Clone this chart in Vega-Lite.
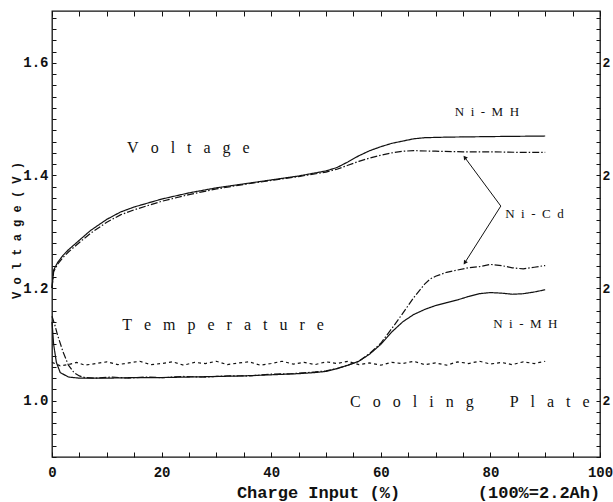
{
  "$schema": "https://vega.github.io/schema/vega-lite/v6.json",
  "width": 548,
  "height": 446,
  "autosize": {"type": "none"},
  "padding": {"left": 52, "top": 11, "right": 13, "bottom": 45},
  "background": "white",
  "config": {
    "view": {"stroke": "#111", "strokeWidth": 1.3},
    "axis": {"domain": false, "grid": false, "ticks": true, "tickColor": "#111", "tickWidth": 1, "labelColor": "#111", "titleColor": "#111"}
  },
  "datasets": {
    "series": [
      {"curve": "Ni-MH voltage", "x": 0, "v": 1.2},
      {"curve": "Ni-MH voltage", "x": 0.3, "v": 1.232},
      {"curve": "Ni-MH voltage", "x": 1, "v": 1.245},
      {"curve": "Ni-MH voltage", "x": 2, "v": 1.258},
      {"curve": "Ni-MH voltage", "x": 3, "v": 1.268},
      {"curve": "Ni-MH voltage", "x": 5, "v": 1.285},
      {"curve": "Ni-MH voltage", "x": 7, "v": 1.302},
      {"curve": "Ni-MH voltage", "x": 10, "v": 1.322},
      {"curve": "Ni-MH voltage", "x": 12.5, "v": 1.335},
      {"curve": "Ni-MH voltage", "x": 15, "v": 1.344},
      {"curve": "Ni-MH voltage", "x": 20, "v": 1.358},
      {"curve": "Ni-MH voltage", "x": 25, "v": 1.369},
      {"curve": "Ni-MH voltage", "x": 30, "v": 1.378},
      {"curve": "Ni-MH voltage", "x": 35, "v": 1.385},
      {"curve": "Ni-MH voltage", "x": 40, "v": 1.392},
      {"curve": "Ni-MH voltage", "x": 45, "v": 1.399},
      {"curve": "Ni-MH voltage", "x": 50, "v": 1.408},
      {"curve": "Ni-MH voltage", "x": 52, "v": 1.414},
      {"curve": "Ni-MH voltage", "x": 54, "v": 1.424},
      {"curve": "Ni-MH voltage", "x": 56, "v": 1.435},
      {"curve": "Ni-MH voltage", "x": 58, "v": 1.444},
      {"curve": "Ni-MH voltage", "x": 60, "v": 1.451},
      {"curve": "Ni-MH voltage", "x": 62, "v": 1.457},
      {"curve": "Ni-MH voltage", "x": 64, "v": 1.461},
      {"curve": "Ni-MH voltage", "x": 66, "v": 1.465},
      {"curve": "Ni-MH voltage", "x": 68, "v": 1.467},
      {"curve": "Ni-MH voltage", "x": 72, "v": 1.468},
      {"curve": "Ni-MH voltage", "x": 80, "v": 1.469},
      {"curve": "Ni-MH voltage", "x": 90, "v": 1.47},

      {"curve": "Ni-Cd voltage", "x": 0, "v": 1.2},
      {"curve": "Ni-Cd voltage", "x": 0.3, "v": 1.229},
      {"curve": "Ni-Cd voltage", "x": 1, "v": 1.242},
      {"curve": "Ni-Cd voltage", "x": 2, "v": 1.254},
      {"curve": "Ni-Cd voltage", "x": 3, "v": 1.264},
      {"curve": "Ni-Cd voltage", "x": 5, "v": 1.281},
      {"curve": "Ni-Cd voltage", "x": 7, "v": 1.297},
      {"curve": "Ni-Cd voltage", "x": 10, "v": 1.317},
      {"curve": "Ni-Cd voltage", "x": 12.5, "v": 1.33},
      {"curve": "Ni-Cd voltage", "x": 15, "v": 1.339},
      {"curve": "Ni-Cd voltage", "x": 20, "v": 1.354},
      {"curve": "Ni-Cd voltage", "x": 25, "v": 1.366},
      {"curve": "Ni-Cd voltage", "x": 30, "v": 1.376},
      {"curve": "Ni-Cd voltage", "x": 35, "v": 1.384},
      {"curve": "Ni-Cd voltage", "x": 40, "v": 1.391},
      {"curve": "Ni-Cd voltage", "x": 45, "v": 1.398},
      {"curve": "Ni-Cd voltage", "x": 50, "v": 1.406},
      {"curve": "Ni-Cd voltage", "x": 52, "v": 1.411},
      {"curve": "Ni-Cd voltage", "x": 54, "v": 1.418},
      {"curve": "Ni-Cd voltage", "x": 56, "v": 1.425},
      {"curve": "Ni-Cd voltage", "x": 58, "v": 1.431},
      {"curve": "Ni-Cd voltage", "x": 60, "v": 1.436},
      {"curve": "Ni-Cd voltage", "x": 62, "v": 1.44},
      {"curve": "Ni-Cd voltage", "x": 64, "v": 1.443},
      {"curve": "Ni-Cd voltage", "x": 66, "v": 1.444},
      {"curve": "Ni-Cd voltage", "x": 70, "v": 1.443},
      {"curve": "Ni-Cd voltage", "x": 75, "v": 1.442},
      {"curve": "Ni-Cd voltage", "x": 80, "v": 1.442},
      {"curve": "Ni-Cd voltage", "x": 85, "v": 1.441},
      {"curve": "Ni-Cd voltage", "x": 90, "v": 1.441},

      {"curve": "Ni-MH temperature", "x": 0, "v": 1.14},
      {"curve": "Ni-MH temperature", "x": 0.3, "v": 1.1},
      {"curve": "Ni-MH temperature", "x": 0.8, "v": 1.068},
      {"curve": "Ni-MH temperature", "x": 1.5, "v": 1.05},
      {"curve": "Ni-MH temperature", "x": 3, "v": 1.042},
      {"curve": "Ni-MH temperature", "x": 5, "v": 1.04},
      {"curve": "Ni-MH temperature", "x": 10, "v": 1.04},
      {"curve": "Ni-MH temperature", "x": 15, "v": 1.041},
      {"curve": "Ni-MH temperature", "x": 20, "v": 1.041},
      {"curve": "Ni-MH temperature", "x": 25, "v": 1.042},
      {"curve": "Ni-MH temperature", "x": 30, "v": 1.043},
      {"curve": "Ni-MH temperature", "x": 35, "v": 1.044},
      {"curve": "Ni-MH temperature", "x": 40, "v": 1.046},
      {"curve": "Ni-MH temperature", "x": 45, "v": 1.048},
      {"curve": "Ni-MH temperature", "x": 48, "v": 1.05},
      {"curve": "Ni-MH temperature", "x": 50, "v": 1.052},
      {"curve": "Ni-MH temperature", "x": 52, "v": 1.057},
      {"curve": "Ni-MH temperature", "x": 54, "v": 1.063},
      {"curve": "Ni-MH temperature", "x": 56, "v": 1.07},
      {"curve": "Ni-MH temperature", "x": 58, "v": 1.083},
      {"curve": "Ni-MH temperature", "x": 60, "v": 1.1},
      {"curve": "Ni-MH temperature", "x": 62, "v": 1.122},
      {"curve": "Ni-MH temperature", "x": 64, "v": 1.14},
      {"curve": "Ni-MH temperature", "x": 66, "v": 1.153},
      {"curve": "Ni-MH temperature", "x": 68, "v": 1.162},
      {"curve": "Ni-MH temperature", "x": 70, "v": 1.169},
      {"curve": "Ni-MH temperature", "x": 72, "v": 1.174},
      {"curve": "Ni-MH temperature", "x": 74, "v": 1.179},
      {"curve": "Ni-MH temperature", "x": 76, "v": 1.185},
      {"curve": "Ni-MH temperature", "x": 78, "v": 1.19},
      {"curve": "Ni-MH temperature", "x": 80, "v": 1.192},
      {"curve": "Ni-MH temperature", "x": 82, "v": 1.191},
      {"curve": "Ni-MH temperature", "x": 84, "v": 1.189},
      {"curve": "Ni-MH temperature", "x": 86, "v": 1.19},
      {"curve": "Ni-MH temperature", "x": 88, "v": 1.193},
      {"curve": "Ni-MH temperature", "x": 90, "v": 1.197},

      {"curve": "Ni-Cd temperature", "x": 0, "v": 1.15},
      {"curve": "Ni-Cd temperature", "x": 0.5, "v": 1.135},
      {"curve": "Ni-Cd temperature", "x": 1, "v": 1.117},
      {"curve": "Ni-Cd temperature", "x": 2, "v": 1.087},
      {"curve": "Ni-Cd temperature", "x": 3, "v": 1.063},
      {"curve": "Ni-Cd temperature", "x": 4, "v": 1.05},
      {"curve": "Ni-Cd temperature", "x": 5, "v": 1.044},
      {"curve": "Ni-Cd temperature", "x": 6, "v": 1.041},
      {"curve": "Ni-Cd temperature", "x": 8, "v": 1.04},
      {"curve": "Ni-Cd temperature", "x": 11, "v": 1.042},
      {"curve": "Ni-Cd temperature", "x": 14, "v": 1.04},
      {"curve": "Ni-Cd temperature", "x": 17, "v": 1.042},
      {"curve": "Ni-Cd temperature", "x": 20, "v": 1.041},
      {"curve": "Ni-Cd temperature", "x": 24, "v": 1.043},
      {"curve": "Ni-Cd temperature", "x": 28, "v": 1.042},
      {"curve": "Ni-Cd temperature", "x": 32, "v": 1.044},
      {"curve": "Ni-Cd temperature", "x": 36, "v": 1.044},
      {"curve": "Ni-Cd temperature", "x": 40, "v": 1.047},
      {"curve": "Ni-Cd temperature", "x": 44, "v": 1.048},
      {"curve": "Ni-Cd temperature", "x": 48, "v": 1.051},
      {"curve": "Ni-Cd temperature", "x": 50, "v": 1.053},
      {"curve": "Ni-Cd temperature", "x": 52, "v": 1.057},
      {"curve": "Ni-Cd temperature", "x": 54, "v": 1.063},
      {"curve": "Ni-Cd temperature", "x": 56, "v": 1.07},
      {"curve": "Ni-Cd temperature", "x": 58, "v": 1.084},
      {"curve": "Ni-Cd temperature", "x": 60, "v": 1.102},
      {"curve": "Ni-Cd temperature", "x": 62, "v": 1.128},
      {"curve": "Ni-Cd temperature", "x": 64, "v": 1.155},
      {"curve": "Ni-Cd temperature", "x": 66, "v": 1.183},
      {"curve": "Ni-Cd temperature", "x": 68, "v": 1.207},
      {"curve": "Ni-Cd temperature", "x": 69, "v": 1.216},
      {"curve": "Ni-Cd temperature", "x": 70, "v": 1.221},
      {"curve": "Ni-Cd temperature", "x": 72, "v": 1.228},
      {"curve": "Ni-Cd temperature", "x": 74, "v": 1.232},
      {"curve": "Ni-Cd temperature", "x": 76, "v": 1.236},
      {"curve": "Ni-Cd temperature", "x": 78, "v": 1.238},
      {"curve": "Ni-Cd temperature", "x": 80, "v": 1.242},
      {"curve": "Ni-Cd temperature", "x": 82, "v": 1.24},
      {"curve": "Ni-Cd temperature", "x": 84, "v": 1.236},
      {"curve": "Ni-Cd temperature", "x": 86, "v": 1.234},
      {"curve": "Ni-Cd temperature", "x": 88, "v": 1.237},
      {"curve": "Ni-Cd temperature", "x": 90, "v": 1.24},

      {"curve": "Cooling plate", "x": 0, "v": 1.068},
      {"curve": "Cooling plate", "x": 1.5, "v": 1.062},
      {"curve": "Cooling plate", "x": 3, "v": 1.064},
      {"curve": "Cooling plate", "x": 4.5, "v": 1.068},
      {"curve": "Cooling plate", "x": 6, "v": 1.063},
      {"curve": "Cooling plate", "x": 8, "v": 1.066},
      {"curve": "Cooling plate", "x": 10, "v": 1.069},
      {"curve": "Cooling plate", "x": 12, "v": 1.064},
      {"curve": "Cooling plate", "x": 14, "v": 1.067},
      {"curve": "Cooling plate", "x": 16, "v": 1.07},
      {"curve": "Cooling plate", "x": 18, "v": 1.064},
      {"curve": "Cooling plate", "x": 20, "v": 1.066},
      {"curve": "Cooling plate", "x": 22, "v": 1.069},
      {"curve": "Cooling plate", "x": 24, "v": 1.063},
      {"curve": "Cooling plate", "x": 26, "v": 1.068},
      {"curve": "Cooling plate", "x": 28, "v": 1.066},
      {"curve": "Cooling plate", "x": 30, "v": 1.07},
      {"curve": "Cooling plate", "x": 32, "v": 1.064},
      {"curve": "Cooling plate", "x": 34, "v": 1.067},
      {"curve": "Cooling plate", "x": 36, "v": 1.069},
      {"curve": "Cooling plate", "x": 38, "v": 1.063},
      {"curve": "Cooling plate", "x": 40, "v": 1.066},
      {"curve": "Cooling plate", "x": 42, "v": 1.07},
      {"curve": "Cooling plate", "x": 44, "v": 1.065},
      {"curve": "Cooling plate", "x": 46, "v": 1.068},
      {"curve": "Cooling plate", "x": 48, "v": 1.064},
      {"curve": "Cooling plate", "x": 50, "v": 1.069},
      {"curve": "Cooling plate", "x": 52, "v": 1.066},
      {"curve": "Cooling plate", "x": 54, "v": 1.07},
      {"curve": "Cooling plate", "x": 56, "v": 1.064},
      {"curve": "Cooling plate", "x": 58, "v": 1.067},
      {"curve": "Cooling plate", "x": 60, "v": 1.063},
      {"curve": "Cooling plate", "x": 62, "v": 1.068},
      {"curve": "Cooling plate", "x": 64, "v": 1.066},
      {"curve": "Cooling plate", "x": 66, "v": 1.07},
      {"curve": "Cooling plate", "x": 68, "v": 1.064},
      {"curve": "Cooling plate", "x": 70, "v": 1.067},
      {"curve": "Cooling plate", "x": 72, "v": 1.063},
      {"curve": "Cooling plate", "x": 74, "v": 1.069},
      {"curve": "Cooling plate", "x": 76, "v": 1.066},
      {"curve": "Cooling plate", "x": 78, "v": 1.07},
      {"curve": "Cooling plate", "x": 80, "v": 1.065},
      {"curve": "Cooling plate", "x": 82, "v": 1.068},
      {"curve": "Cooling plate", "x": 84, "v": 1.064},
      {"curve": "Cooling plate", "x": 86, "v": 1.069},
      {"curve": "Cooling plate", "x": 88, "v": 1.066},
      {"curve": "Cooling plate", "x": 90, "v": 1.07}
    ],
    "bigLabels": [
      {"label": "V\u00a0\u00a0\u00a0o\u00a0\u00a0\u00a0l\u00a0\u00a0\u00a0t\u00a0\u00a0\u00a0a\u00a0\u00a0\u00a0g\u00a0\u00a0\u00a0e", "x": 13.7, "v": 1.449},
      {"label": "T\u00a0\u00a0\u00a0e\u00a0\u00a0\u00a0m\u00a0\u00a0\u00a0p\u00a0\u00a0\u00a0e\u00a0\u00a0\u00a0r\u00a0\u00a0\u00a0a\u00a0\u00a0\u00a0t\u00a0\u00a0\u00a0u\u00a0\u00a0\u00a0r\u00a0\u00a0\u00a0e", "x": 12.8, "v": 1.134},
      {"label": "C\u00a0\u00a0\u00a0o\u00a0\u00a0\u00a0o\u00a0\u00a0\u00a0l\u00a0\u00a0\u00a0i\u00a0\u00a0\u00a0n\u00a0\u00a0\u00a0g\u00a0\u00a0\u00a0\u00a0\u00a0\u00a0\u00a0\u00a0\u00a0P\u00a0\u00a0\u00a0l\u00a0\u00a0\u00a0a\u00a0\u00a0\u00a0t\u00a0\u00a0\u00a0e", "x": 54.4, "v": 0.998}
    ],
    "smallLabels": [
      {"label": "N\u00a0\u00a0i\u00a0\u00a0-\u00a0\u00a0M\u00a0\u00a0H", "x": 73.5, "v": 1.5125},
      {"label": "N\u00a0\u00a0i\u00a0\u00a0-\u00a0\u00a0C\u00a0\u00a0d", "x": 82.7, "v": 1.331},
      {"label": "N\u00a0\u00a0i\u00a0\u00a0-\u00a0\u00a0M\u00a0\u00a0H", "x": 80.5, "v": 1.137}
    ],
    "arrows": [
      {"x": 81.9, "v": 1.3456, "x2": 75.4, "v2": 1.431},
      {"x": 81.9, "v": 1.3456, "x2": 75.4, "v2": 1.246}
    ],
    "headUp": [{"x": 75.4, "v": 1.431}],
    "headDown": [{"x": 75.4, "v": 1.246}],
    "note": [{"label": "(100%=2.2Ah)", "x": 77.7, "v": 0.836}]
  },
  "layer": [
    {
      "data": {"name": "series"},
      "mark": {"type": "line", "strokeWidth": 1.2, "color": "#111"},
      "encoding": {
        "x": {
          "field": "x", "type": "quantitative",
          "scale": {"domain": [0, 100], "nice": false, "zero": false},
          "axis": {
            "orient": "bottom",
            "values": [0, 5, 10, 15, 20, 25, 30, 35, 40, 45, 50, 55, 60, 65, 70, 75, 80, 85, 90, 95, 100],
            "labelExpr": "datum.value % 20 === 0 ? datum.label : ''",
            "tickSize": -5,
            "labelFont": "Liberation Mono", "labelFontWeight": "bold", "labelFontSize": 14,
            "labelPadding": 13, "labelFlush": false, "labelOverlap": false,
            "title": "Charge Input (%)",
            "titleFont": "Liberation Mono", "titleFontWeight": "bold", "titleFontSize": 17,
            "titleX": 266, "titleY": 35, "titleBaseline": "middle", "titleAlign": "center"
          }
        },
        "y": {
          "field": "v", "type": "quantitative",
          "scale": {"domain": [0.9, 1.692], "nice": false, "zero": false},
          "axis": {
            "orient": "left",
            "values": [0.9, 0.92, 0.94, 0.96, 0.98, 1.0, 1.02, 1.04, 1.06, 1.08, 1.1, 1.12, 1.14, 1.16, 1.18, 1.2, 1.22, 1.24, 1.26, 1.28, 1.3, 1.32, 1.34, 1.36, 1.38, 1.4, 1.42, 1.44, 1.46, 1.48, 1.5, 1.52, 1.54, 1.56, 1.58, 1.6, 1.62, 1.64, 1.66, 1.68],
            "labelExpr": "(round(datum.value * 100) % 20 === 0) ? format(datum.value, '.1f') : ''",
            "tickSize": -4,
            "labelFont": "Liberation Mono", "labelFontWeight": "bold", "labelFontSize": 14,
            "labelPadding": 8, "labelFlush": false, "labelOverlap": false,
            "title": "V o l t a g e ( V )",
            "titleFont": "Liberation Mono", "titleFontWeight": "bold", "titleFontSize": 12,
            "titleX": -36, "titleY": 219, "titleBaseline": "middle", "titleAlign": "center", "titleAngle": -90
          }
        },
        "detail": {"field": "curve"},
        "strokeDash": {
          "field": "curve", "type": "nominal",
          "scale": {
            "domain": ["Ni-MH voltage", "Ni-Cd voltage", "Ni-MH temperature", "Ni-Cd temperature", "Cooling plate"],
            "range": [[1, 0], [7, 2, 1.5, 2], [1, 0], [7, 2, 1.5, 2], [3, 3]]
          },
          "legend": null
        }
      }
    },
    {
      "data": {"values": [{"x": 0, "v": 1.0}]},
      "mark": {"type": "point", "opacity": 0},
      "encoding": {
        "x": {
          "field": "x", "type": "quantitative",
          "scale": {"domain": [0, 100], "nice": false, "zero": false},
          "axis": {
            "orient": "top",
            "values": [0, 5, 10, 15, 20, 25, 30, 35, 40, 45, 50, 55, 60, 65, 70, 75, 80, 85, 90, 95, 100],
            "labels": false, "tickSize": -5, "title": null
          }
        },
        "y": {
          "field": "v", "type": "quantitative",
          "scale": {"domain": [0.9, 1.692], "nice": false, "zero": false},
          "axis": {
            "orient": "right",
            "values": [0.9, 0.92, 0.94, 0.96, 0.98, 1.0, 1.02, 1.04, 1.06, 1.08, 1.1, 1.12, 1.14, 1.16, 1.18, 1.2, 1.22, 1.24, 1.26, 1.28, 1.3, 1.32, 1.34, 1.36, 1.38, 1.4, 1.42, 1.44, 1.46, 1.48, 1.5, 1.52, 1.54, 1.56, 1.58, 1.6, 1.62, 1.64, 1.66, 1.68],
            "labelExpr": "(round(datum.value * 100) % 20 === 0) ? '2' : ''",
            "tickSize": -4,
            "labelFont": "Liberation Mono", "labelFontWeight": "bold", "labelFontSize": 13,
            "labelPadding": 6, "labelFlush": false, "labelOverlap": false,
            "title": null
          }
        }
      }
    },
    {
      "data": {"name": "bigLabels"},
      "mark": {"type": "text", "font": "Liberation Serif", "fontSize": 16, "align": "left", "baseline": "middle", "color": "#111"},
      "encoding": {
        "x": {"field": "x", "type": "quantitative", "scale": {"domain": [0, 100], "nice": false, "zero": false}, "axis": null},
        "y": {"field": "v", "type": "quantitative", "scale": {"domain": [0.9, 1.692], "nice": false, "zero": false}, "axis": null},
        "text": {"field": "label"}
      }
    },
    {
      "data": {"name": "smallLabels"},
      "mark": {"type": "text", "font": "Liberation Serif", "fontSize": 13, "align": "left", "baseline": "middle", "color": "#111"},
      "encoding": {
        "x": {"field": "x", "type": "quantitative", "scale": {"domain": [0, 100], "nice": false, "zero": false}, "axis": null},
        "y": {"field": "v", "type": "quantitative", "scale": {"domain": [0.9, 1.692], "nice": false, "zero": false}, "axis": null},
        "text": {"field": "label"}
      }
    },
    {
      "data": {"name": "arrows"},
      "mark": {"type": "rule", "strokeWidth": 1, "color": "#111"},
      "encoding": {
        "x": {"field": "x", "type": "quantitative", "scale": {"domain": [0, 100], "nice": false, "zero": false}, "axis": null},
        "y": {"field": "v", "type": "quantitative", "scale": {"domain": [0.9, 1.692], "nice": false, "zero": false}, "axis": null},
        "x2": {"field": "x2"},
        "y2": {"field": "v2"}
      }
    },
    {
      "data": {"name": "headUp"},
      "mark": {"type": "point", "shape": "triangle", "angle": 322, "size": 22, "filled": true, "color": "#111", "opacity": 1},
      "encoding": {
        "x": {"field": "x", "type": "quantitative", "scale": {"domain": [0, 100], "nice": false, "zero": false}, "axis": null},
        "y": {"field": "v", "type": "quantitative", "scale": {"domain": [0.9, 1.692], "nice": false, "zero": false}, "axis": null}
      }
    },
    {
      "data": {"name": "headDown"},
      "mark": {"type": "point", "shape": "triangle", "angle": 214, "size": 22, "filled": true, "color": "#111", "opacity": 1},
      "encoding": {
        "x": {"field": "x", "type": "quantitative", "scale": {"domain": [0, 100], "nice": false, "zero": false}, "axis": null},
        "y": {"field": "v", "type": "quantitative", "scale": {"domain": [0.9, 1.692], "nice": false, "zero": false}, "axis": null}
      }
    },
    {
      "data": {"name": "note"},
      "mark": {"type": "text", "font": "Liberation Mono", "fontWeight": "bold", "fontSize": 17, "align": "left", "baseline": "middle", "color": "#111"},
      "encoding": {
        "x": {"field": "x", "type": "quantitative", "scale": {"domain": [0, 100], "nice": false, "zero": false}, "axis": null},
        "y": {"field": "v", "type": "quantitative", "scale": {"domain": [0.9, 1.692], "nice": false, "zero": false}, "axis": null},
        "text": {"field": "label"}
      }
    }
  ],
  "resolve": {"scale": {"x": "independent", "y": "independent"}}
}
